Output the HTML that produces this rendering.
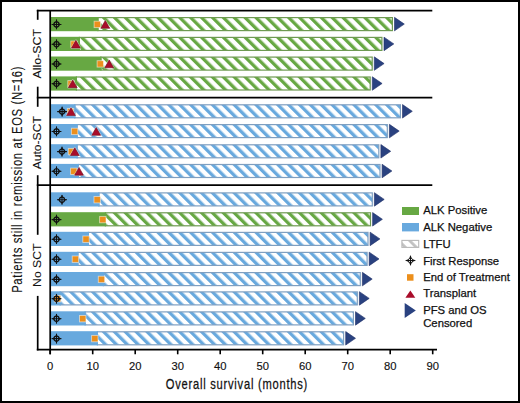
<!DOCTYPE html>
<html><head><meta charset="utf-8"><style>
html,body{margin:0;padding:0;background:#fff;}
body{width:520px;height:403px;overflow:hidden;}
svg{display:block;font-family:"Liberation Sans",sans-serif;fill:#1a1a1a;}
text{fill:#111;stroke:#111;stroke-width:0.25px;}
</style></head><body>
<svg width="520" height="403" viewBox="0 0 520 403">
<rect x="0" y="0" width="520" height="403" fill="#fff"/>
<defs>
<pattern id="hg" patternUnits="userSpaceOnUse" width="7.7" height="7.7" patternTransform="rotate(-45)"><rect width="7.7" height="7.7" fill="#fff"/><rect width="3.31" height="7.7" fill="#67a843"/></pattern>
<pattern id="hb" patternUnits="userSpaceOnUse" width="7.7" height="7.7" patternTransform="rotate(-45)"><rect width="7.7" height="7.7" fill="#fff"/><rect width="3.31" height="7.7" fill="#68a9de"/></pattern>
<pattern id="hl" patternUnits="userSpaceOnUse" width="7.7" height="7.7" patternTransform="rotate(-45)"><rect width="7.7" height="7.7" fill="#fff"/><rect width="2.77" height="7.7" fill="#c2c2c2"/></pattern>
</defs>
<g transform="translate(2.76,17.00)"><rect x="95.14" y="0.6" width="294.50" height="13.00" fill="url(#hg)" stroke="#6e9a52" stroke-width="1.2"/></g>
<rect x="51.0" y="17.00" width="47.50" height="14.2" fill="#67a843"/>
<path d="M394.50,17.35 L404.30,24.10 L394.50,30.85Z" fill="#2a4280" stroke="#1e2f66" stroke-width="0.6" stroke-linejoin="round"/>
<rect x="94.10" y="21.20" width="6.4" height="6.4" fill="#ec8f1c" stroke="#fff" stroke-opacity="0.55" stroke-width="0.9"/>
<path d="M100.85,28.30 L105.30,20.50 L109.75,28.30Z" fill="none" stroke="#fff" stroke-opacity="0.6" stroke-width="1.6" stroke-linejoin="round"/><path d="M100.85,28.30 L105.30,20.50 L109.75,28.30Z" fill="#a90c2a" stroke="#6e0819" stroke-width="0.6" stroke-linejoin="round"/>
<g transform="translate(56.50,24.40) scale(1.0)"><path d="M-1.0,-2.3L0,-5.2L1.0,-2.3Z M-1.0,2.3L0,5.2L1.0,2.3Z M-2.3,-1.0L-5.2,0L-2.3,1.0Z M2.3,-1.0L5.2,0L2.3,1.0Z" fill="#111"/><circle r="2.55" fill="none" stroke="#111" stroke-width="1.2"/><path d="M0,-4.8V4.8M-4.8,0H4.8" stroke="#111" stroke-width="1.05"/></g>
<g transform="translate(2.76,36.80)"><rect x="76.64" y="0.6" width="302.50" height="13.00" fill="url(#hg)" stroke="#6e9a52" stroke-width="1.2"/></g>
<rect x="51.0" y="36.80" width="29.00" height="14.2" fill="#67a843"/>
<path d="M384.00,37.15 L393.80,43.90 L384.00,50.65Z" fill="#2a4280" stroke="#1e2f66" stroke-width="0.6" stroke-linejoin="round"/>
<rect x="70.80" y="41.00" width="6.4" height="6.4" fill="#ec8f1c" stroke="#fff" stroke-opacity="0.55" stroke-width="0.9"/>
<path d="M71.45,48.10 L75.90,40.30 L80.35,48.10Z" fill="none" stroke="#fff" stroke-opacity="0.6" stroke-width="1.6" stroke-linejoin="round"/><path d="M71.45,48.10 L75.90,40.30 L80.35,48.10Z" fill="#a90c2a" stroke="#6e0819" stroke-width="0.6" stroke-linejoin="round"/>
<g transform="translate(56.50,44.20) scale(1.0)"><path d="M-1.0,-2.3L0,-5.2L1.0,-2.3Z M-1.0,2.3L0,5.2L1.0,2.3Z M-2.3,-1.0L-5.2,0L-2.3,1.0Z M2.3,-1.0L5.2,0L2.3,1.0Z" fill="#111"/><circle r="2.55" fill="none" stroke="#111" stroke-width="1.2"/><path d="M0,-4.8V4.8M-4.8,0H4.8" stroke="#111" stroke-width="1.05"/></g>
<g transform="translate(2.76,56.50)"><rect x="98.14" y="0.6" width="271.30" height="13.00" fill="url(#hg)" stroke="#6e9a52" stroke-width="1.2"/></g>
<rect x="51.0" y="56.50" width="50.50" height="14.2" fill="#67a843"/>
<path d="M374.30,56.85 L384.10,63.60 L374.30,70.35Z" fill="#2a4280" stroke="#1e2f66" stroke-width="0.6" stroke-linejoin="round"/>
<rect x="97.10" y="60.70" width="6.4" height="6.4" fill="#ec8f1c" stroke="#fff" stroke-opacity="0.55" stroke-width="0.9"/>
<path d="M104.75,67.80 L109.20,60.00 L113.65,67.80Z" fill="none" stroke="#fff" stroke-opacity="0.6" stroke-width="1.6" stroke-linejoin="round"/><path d="M104.75,67.80 L109.20,60.00 L113.65,67.80Z" fill="#a90c2a" stroke="#6e0819" stroke-width="0.6" stroke-linejoin="round"/>
<g transform="translate(56.50,63.90) scale(1.0)"><path d="M-1.0,-2.3L0,-5.2L1.0,-2.3Z M-1.0,2.3L0,5.2L1.0,2.3Z M-2.3,-1.0L-5.2,0L-2.3,1.0Z M2.3,-1.0L5.2,0L2.3,1.0Z" fill="#111"/><circle r="2.55" fill="none" stroke="#111" stroke-width="1.2"/><path d="M0,-4.8V4.8M-4.8,0H4.8" stroke="#111" stroke-width="1.05"/></g>
<g transform="translate(2.76,76.40)"><rect x="73.64" y="0.6" width="293.80" height="13.00" fill="url(#hg)" stroke="#6e9a52" stroke-width="1.2"/></g>
<rect x="51.0" y="76.40" width="26.00" height="14.2" fill="#67a843"/>
<path d="M372.30,76.75 L382.10,83.50 L372.30,90.25Z" fill="#2a4280" stroke="#1e2f66" stroke-width="0.6" stroke-linejoin="round"/>
<rect x="67.80" y="80.60" width="6.4" height="6.4" fill="#ec8f1c" stroke="#fff" stroke-opacity="0.55" stroke-width="0.9"/>
<path d="M68.25,87.70 L72.70,79.90 L77.15,87.70Z" fill="none" stroke="#fff" stroke-opacity="0.6" stroke-width="1.6" stroke-linejoin="round"/><path d="M68.25,87.70 L72.70,79.90 L77.15,87.70Z" fill="#a90c2a" stroke="#6e0819" stroke-width="0.6" stroke-linejoin="round"/>
<g transform="translate(56.50,83.80) scale(1.0)"><path d="M-1.0,-2.3L0,-5.2L1.0,-2.3Z M-1.0,2.3L0,5.2L1.0,2.3Z M-2.3,-1.0L-5.2,0L-2.3,1.0Z M2.3,-1.0L5.2,0L2.3,1.0Z" fill="#111"/><circle r="2.55" fill="none" stroke="#111" stroke-width="1.2"/><path d="M0,-4.8V4.8M-4.8,0H4.8" stroke="#111" stroke-width="1.05"/></g>
<g transform="translate(2.76,104.20)"><rect x="72.04" y="0.6" width="325.60" height="13.00" fill="url(#hb)" stroke="#7f9fc0" stroke-width="1.2"/></g>
<rect x="51.0" y="104.20" width="24.40" height="14.2" fill="#68a9de"/>
<path d="M402.50,104.55 L412.30,111.30 L402.50,118.05Z" fill="#2a4280" stroke="#1e2f66" stroke-width="0.6" stroke-linejoin="round"/>
<rect x="67.30" y="108.40" width="6.4" height="6.4" fill="#ec8f1c" stroke="#fff" stroke-opacity="0.55" stroke-width="0.9"/>
<path d="M66.55,115.50 L71.00,107.70 L75.45,115.50Z" fill="none" stroke="#fff" stroke-opacity="0.6" stroke-width="1.6" stroke-linejoin="round"/><path d="M66.55,115.50 L71.00,107.70 L75.45,115.50Z" fill="#a90c2a" stroke="#6e0819" stroke-width="0.6" stroke-linejoin="round"/>
<g transform="translate(62.10,111.60) scale(1.0)"><path d="M-1.0,-2.3L0,-5.2L1.0,-2.3Z M-1.0,2.3L0,5.2L1.0,2.3Z M-2.3,-1.0L-5.2,0L-2.3,1.0Z M2.3,-1.0L5.2,0L2.3,1.0Z" fill="#111"/><circle r="2.55" fill="none" stroke="#111" stroke-width="1.2"/><path d="M0,-4.8V4.8M-4.8,0H4.8" stroke="#111" stroke-width="1.05"/></g>
<g transform="translate(2.76,124.00)"><rect x="74.34" y="0.6" width="310.20" height="13.00" fill="url(#hb)" stroke="#7f9fc0" stroke-width="1.2"/></g>
<rect x="51.0" y="124.00" width="26.70" height="14.2" fill="#68a9de"/>
<path d="M389.40,124.35 L399.20,131.10 L389.40,137.85Z" fill="#2a4280" stroke="#1e2f66" stroke-width="0.6" stroke-linejoin="round"/>
<rect x="71.40" y="128.20" width="6.4" height="6.4" fill="#ec8f1c" stroke="#fff" stroke-opacity="0.55" stroke-width="0.9"/>
<path d="M91.75,135.30 L96.20,127.50 L100.65,135.30Z" fill="none" stroke="#fff" stroke-opacity="0.6" stroke-width="1.6" stroke-linejoin="round"/><path d="M91.75,135.30 L96.20,127.50 L100.65,135.30Z" fill="#a90c2a" stroke="#6e0819" stroke-width="0.6" stroke-linejoin="round"/>
<g transform="translate(56.50,131.40) scale(1.0)"><path d="M-1.0,-2.3L0,-5.2L1.0,-2.3Z M-1.0,2.3L0,5.2L1.0,2.3Z M-2.3,-1.0L-5.2,0L-2.3,1.0Z M2.3,-1.0L5.2,0L2.3,1.0Z" fill="#111"/><circle r="2.55" fill="none" stroke="#111" stroke-width="1.2"/><path d="M0,-4.8V4.8M-4.8,0H4.8" stroke="#111" stroke-width="1.05"/></g>
<g transform="translate(2.76,144.20)"><rect x="74.34" y="0.6" width="301.70" height="13.00" fill="url(#hb)" stroke="#7f9fc0" stroke-width="1.2"/></g>
<rect x="51.0" y="144.20" width="26.70" height="14.2" fill="#68a9de"/>
<path d="M380.90,144.55 L390.70,151.30 L380.90,158.05Z" fill="#2a4280" stroke="#1e2f66" stroke-width="0.6" stroke-linejoin="round"/>
<rect x="68.30" y="148.40" width="6.4" height="6.4" fill="#ec8f1c" stroke="#fff" stroke-opacity="0.55" stroke-width="0.9"/>
<path d="M70.35,155.50 L74.80,147.70 L79.25,155.50Z" fill="none" stroke="#fff" stroke-opacity="0.6" stroke-width="1.6" stroke-linejoin="round"/><path d="M70.35,155.50 L74.80,147.70 L79.25,155.50Z" fill="#a90c2a" stroke="#6e0819" stroke-width="0.6" stroke-linejoin="round"/>
<g transform="translate(62.00,151.60) scale(1.0)"><path d="M-1.0,-2.3L0,-5.2L1.0,-2.3Z M-1.0,2.3L0,5.2L1.0,2.3Z M-2.3,-1.0L-5.2,0L-2.3,1.0Z M2.3,-1.0L5.2,0L2.3,1.0Z" fill="#111"/><circle r="2.55" fill="none" stroke="#111" stroke-width="1.2"/><path d="M0,-4.8V4.8M-4.8,0H4.8" stroke="#111" stroke-width="1.05"/></g>
<g transform="translate(2.76,163.90)"><rect x="75.64" y="0.6" width="301.60" height="13.00" fill="url(#hb)" stroke="#7f9fc0" stroke-width="1.2"/></g>
<rect x="51.0" y="163.90" width="28.00" height="14.2" fill="#68a9de"/>
<path d="M382.10,164.25 L391.90,171.00 L382.10,177.75Z" fill="#2a4280" stroke="#1e2f66" stroke-width="0.6" stroke-linejoin="round"/>
<rect x="70.60" y="168.10" width="6.4" height="6.4" fill="#ec8f1c" stroke="#fff" stroke-opacity="0.55" stroke-width="0.9"/>
<path d="M74.55,175.20 L79.00,167.40 L83.45,175.20Z" fill="none" stroke="#fff" stroke-opacity="0.6" stroke-width="1.6" stroke-linejoin="round"/><path d="M74.55,175.20 L79.00,167.40 L83.45,175.20Z" fill="#a90c2a" stroke="#6e0819" stroke-width="0.6" stroke-linejoin="round"/>
<g transform="translate(56.50,171.30) scale(1.0)"><path d="M-1.0,-2.3L0,-5.2L1.0,-2.3Z M-1.0,2.3L0,5.2L1.0,2.3Z M-2.3,-1.0L-5.2,0L-2.3,1.0Z M2.3,-1.0L5.2,0L2.3,1.0Z" fill="#111"/><circle r="2.55" fill="none" stroke="#111" stroke-width="1.2"/><path d="M0,-4.8V4.8M-4.8,0H4.8" stroke="#111" stroke-width="1.05"/></g>
<g transform="translate(2.76,192.30)"><rect x="96.14" y="0.6" width="273.40" height="13.00" fill="url(#hb)" stroke="#7f9fc0" stroke-width="1.2"/></g>
<rect x="51.0" y="192.30" width="48.50" height="14.2" fill="#68a9de"/>
<path d="M374.40,192.65 L384.20,199.40 L374.40,206.15Z" fill="#2a4280" stroke="#1e2f66" stroke-width="0.6" stroke-linejoin="round"/>
<rect x="94.00" y="196.50" width="6.4" height="6.4" fill="#ec8f1c" stroke="#fff" stroke-opacity="0.55" stroke-width="0.9"/>
<g transform="translate(62.00,199.70) scale(1.0)"><path d="M-1.0,-2.3L0,-5.2L1.0,-2.3Z M-1.0,2.3L0,5.2L1.0,2.3Z M-2.3,-1.0L-5.2,0L-2.3,1.0Z M2.3,-1.0L5.2,0L2.3,1.0Z" fill="#111"/><circle r="2.55" fill="none" stroke="#111" stroke-width="1.2"/><path d="M0,-4.8V4.8M-4.8,0H4.8" stroke="#111" stroke-width="1.05"/></g>
<g transform="translate(2.76,212.20)"><rect x="102.64" y="0.6" width="265.10" height="13.00" fill="url(#hg)" stroke="#6e9a52" stroke-width="1.2"/></g>
<rect x="51.0" y="212.20" width="55.00" height="14.2" fill="#67a843"/>
<path d="M372.60,212.55 L382.40,219.30 L372.60,226.05Z" fill="#2a4280" stroke="#1e2f66" stroke-width="0.6" stroke-linejoin="round"/>
<rect x="99.60" y="216.40" width="6.4" height="6.4" fill="#ec8f1c" stroke="#fff" stroke-opacity="0.55" stroke-width="0.9"/>
<g transform="translate(56.50,219.60) scale(1.0)"><path d="M-1.0,-2.3L0,-5.2L1.0,-2.3Z M-1.0,2.3L0,5.2L1.0,2.3Z M-2.3,-1.0L-5.2,0L-2.3,1.0Z M2.3,-1.0L5.2,0L2.3,1.0Z" fill="#111"/><circle r="2.55" fill="none" stroke="#111" stroke-width="1.2"/><path d="M0,-4.8V4.8M-4.8,0H4.8" stroke="#111" stroke-width="1.05"/></g>
<g transform="translate(2.76,231.80)"><rect x="85.64" y="0.6" width="279.60" height="13.00" fill="url(#hb)" stroke="#7f9fc0" stroke-width="1.2"/></g>
<rect x="51.0" y="231.80" width="38.00" height="14.2" fill="#68a9de"/>
<path d="M370.10,232.15 L379.90,238.90 L370.10,245.65Z" fill="#2a4280" stroke="#1e2f66" stroke-width="0.6" stroke-linejoin="round"/>
<rect x="82.80" y="236.00" width="6.4" height="6.4" fill="#ec8f1c" stroke="#fff" stroke-opacity="0.55" stroke-width="0.9"/>
<g transform="translate(56.50,239.20) scale(1.0)"><path d="M-1.0,-2.3L0,-5.2L1.0,-2.3Z M-1.0,2.3L0,5.2L1.0,2.3Z M-2.3,-1.0L-5.2,0L-2.3,1.0Z M2.3,-1.0L5.2,0L2.3,1.0Z" fill="#111"/><circle r="2.55" fill="none" stroke="#111" stroke-width="1.2"/><path d="M0,-4.8V4.8M-4.8,0H4.8" stroke="#111" stroke-width="1.05"/></g>
<g transform="translate(2.76,251.80)"><rect x="75.14" y="0.6" width="289.20" height="13.00" fill="url(#hb)" stroke="#7f9fc0" stroke-width="1.2"/></g>
<rect x="51.0" y="251.80" width="27.50" height="14.2" fill="#68a9de"/>
<path d="M369.20,252.15 L379.00,258.90 L369.20,265.65Z" fill="#2a4280" stroke="#1e2f66" stroke-width="0.6" stroke-linejoin="round"/>
<rect x="72.20" y="256.00" width="6.4" height="6.4" fill="#ec8f1c" stroke="#fff" stroke-opacity="0.55" stroke-width="0.9"/>
<g transform="translate(56.50,259.20) scale(1.0)"><path d="M-1.0,-2.3L0,-5.2L1.0,-2.3Z M-1.0,2.3L0,5.2L1.0,2.3Z M-2.3,-1.0L-5.2,0L-2.3,1.0Z M2.3,-1.0L5.2,0L2.3,1.0Z" fill="#111"/><circle r="2.55" fill="none" stroke="#111" stroke-width="1.2"/><path d="M0,-4.8V4.8M-4.8,0H4.8" stroke="#111" stroke-width="1.05"/></g>
<g transform="translate(2.76,272.00)"><rect x="100.64" y="0.6" width="256.90" height="13.00" fill="url(#hb)" stroke="#7f9fc0" stroke-width="1.2"/></g>
<rect x="51.0" y="272.00" width="53.00" height="14.2" fill="#68a9de"/>
<path d="M362.40,272.35 L372.20,279.10 L362.40,285.85Z" fill="#2a4280" stroke="#1e2f66" stroke-width="0.6" stroke-linejoin="round"/>
<rect x="98.30" y="276.20" width="6.4" height="6.4" fill="#ec8f1c" stroke="#fff" stroke-opacity="0.55" stroke-width="0.9"/>
<g transform="translate(56.50,279.40) scale(1.0)"><path d="M-1.0,-2.3L0,-5.2L1.0,-2.3Z M-1.0,2.3L0,5.2L1.0,2.3Z M-2.3,-1.0L-5.2,0L-2.3,1.0Z M2.3,-1.0L5.2,0L2.3,1.0Z" fill="#111"/><circle r="2.55" fill="none" stroke="#111" stroke-width="1.2"/><path d="M0,-4.8V4.8M-4.8,0H4.8" stroke="#111" stroke-width="1.05"/></g>
<g transform="translate(2.76,291.30)"><rect x="57.44" y="0.6" width="297.10" height="13.00" fill="url(#hb)" stroke="#7f9fc0" stroke-width="1.2"/></g>
<rect x="51.0" y="291.30" width="9.80" height="14.2" fill="#68a9de"/>
<path d="M359.40,291.65 L369.20,298.40 L359.40,305.15Z" fill="#2a4280" stroke="#1e2f66" stroke-width="0.6" stroke-linejoin="round"/>
<rect x="54.30" y="295.50" width="6.4" height="6.4" fill="#ec8f1c" stroke="#fff" stroke-opacity="0.55" stroke-width="0.9"/>
<g transform="translate(56.50,298.70) scale(1.0)"><path d="M-1.0,-2.3L0,-5.2L1.0,-2.3Z M-1.0,2.3L0,5.2L1.0,2.3Z M-2.3,-1.0L-5.2,0L-2.3,1.0Z M2.3,-1.0L5.2,0L2.3,1.0Z" fill="#111"/><circle r="2.55" fill="none" stroke="#111" stroke-width="1.2"/><path d="M0,-4.8V4.8M-4.8,0H4.8" stroke="#111" stroke-width="1.05"/></g>
<g transform="translate(2.76,311.30)"><rect x="82.34" y="0.6" width="268.30" height="13.00" fill="url(#hb)" stroke="#7f9fc0" stroke-width="1.2"/></g>
<rect x="51.0" y="311.30" width="34.70" height="14.2" fill="#68a9de"/>
<path d="M355.50,311.65 L365.30,318.40 L355.50,325.15Z" fill="#2a4280" stroke="#1e2f66" stroke-width="0.6" stroke-linejoin="round"/>
<rect x="79.50" y="315.50" width="6.4" height="6.4" fill="#ec8f1c" stroke="#fff" stroke-opacity="0.55" stroke-width="0.9"/>
<g transform="translate(56.50,318.70) scale(1.0)"><path d="M-1.0,-2.3L0,-5.2L1.0,-2.3Z M-1.0,2.3L0,5.2L1.0,2.3Z M-2.3,-1.0L-5.2,0L-2.3,1.0Z M2.3,-1.0L5.2,0L2.3,1.0Z" fill="#111"/><circle r="2.55" fill="none" stroke="#111" stroke-width="1.2"/><path d="M0,-4.8V4.8M-4.8,0H4.8" stroke="#111" stroke-width="1.05"/></g>
<g transform="translate(2.76,331.20)"><rect x="94.64" y="0.6" width="246.20" height="13.00" fill="url(#hb)" stroke="#7f9fc0" stroke-width="1.2"/></g>
<rect x="51.0" y="331.20" width="47.00" height="14.2" fill="#68a9de"/>
<path d="M345.70,331.55 L355.50,338.30 L345.70,345.05Z" fill="#2a4280" stroke="#1e2f66" stroke-width="0.6" stroke-linejoin="round"/>
<rect x="91.60" y="335.40" width="6.4" height="6.4" fill="#ec8f1c" stroke="#fff" stroke-opacity="0.55" stroke-width="0.9"/>
<g transform="translate(56.50,338.60) scale(1.0)"><path d="M-1.0,-2.3L0,-5.2L1.0,-2.3Z M-1.0,2.3L0,5.2L1.0,2.3Z M-2.3,-1.0L-5.2,0L-2.3,1.0Z M2.3,-1.0L5.2,0L2.3,1.0Z" fill="#111"/><circle r="2.55" fill="none" stroke="#111" stroke-width="1.2"/><path d="M0,-4.8V4.8M-4.8,0H4.8" stroke="#111" stroke-width="1.05"/></g>
<path d="M36.8,10.7H432.3" stroke="#000" stroke-width="1.8" fill="none"/>
<path d="M36.8,97.7H432.3" stroke="#000" stroke-width="1.8" fill="none"/>
<path d="M36.8,185.2H432.3" stroke="#000" stroke-width="1.8" fill="none"/>
<path d="M36.8,349.6H437" stroke="#000" stroke-width="1.8" fill="none"/>
<path d="M50.2,10H50.2V354.3" stroke="#000" stroke-width="1.7"/>
<path d="M37.7,9.8V19.8" stroke="#000" stroke-width="1.7"/>
<path d="M37.7,86.7V106.8" stroke="#000" stroke-width="1.7"/>
<path d="M37.7,175.2V234.8" stroke="#000" stroke-width="1.7"/>
<path d="M37.7,295.9V350.4" stroke="#000" stroke-width="1.7"/>
<path d="M50.20,349.6V354.3" stroke="#000" stroke-width="1.6"/>
<text transform="translate(50.20,369.5) scale(0.97,1)" font-size="11.6" text-anchor="middle" style="stroke-width:0.15px">0</text>
<path d="M92.70,349.6V354.3" stroke="#000" stroke-width="1.6"/>
<text transform="translate(92.70,369.5) scale(0.97,1)" font-size="11.6" text-anchor="middle" style="stroke-width:0.15px">10</text>
<path d="M135.20,349.6V354.3" stroke="#000" stroke-width="1.6"/>
<text transform="translate(135.20,369.5) scale(0.97,1)" font-size="11.6" text-anchor="middle" style="stroke-width:0.15px">20</text>
<path d="M177.70,349.6V354.3" stroke="#000" stroke-width="1.6"/>
<text transform="translate(177.70,369.5) scale(0.97,1)" font-size="11.6" text-anchor="middle" style="stroke-width:0.15px">30</text>
<path d="M220.20,349.6V354.3" stroke="#000" stroke-width="1.6"/>
<text transform="translate(220.20,369.5) scale(0.97,1)" font-size="11.6" text-anchor="middle" style="stroke-width:0.15px">40</text>
<path d="M262.70,349.6V354.3" stroke="#000" stroke-width="1.6"/>
<text transform="translate(262.70,369.5) scale(0.97,1)" font-size="11.6" text-anchor="middle" style="stroke-width:0.15px">50</text>
<path d="M305.20,349.6V354.3" stroke="#000" stroke-width="1.6"/>
<text transform="translate(305.20,369.5) scale(0.97,1)" font-size="11.6" text-anchor="middle" style="stroke-width:0.15px">60</text>
<path d="M347.70,349.6V354.3" stroke="#000" stroke-width="1.6"/>
<text transform="translate(347.70,369.5) scale(0.97,1)" font-size="11.6" text-anchor="middle" style="stroke-width:0.15px">70</text>
<path d="M390.20,349.6V354.3" stroke="#000" stroke-width="1.6"/>
<text transform="translate(390.20,369.5) scale(0.97,1)" font-size="11.6" text-anchor="middle" style="stroke-width:0.15px">80</text>
<path d="M432.70,349.6V354.3" stroke="#000" stroke-width="1.6"/>
<text transform="translate(432.70,369.5) scale(0.97,1)" font-size="11.6" text-anchor="middle" style="stroke-width:0.15px">90</text>
<text transform="translate(165.8,389.0) scale(0.78,1)" font-size="14.3" textLength="181.41" lengthAdjust="spacing">Overall survival (months)</text>
<text transform="translate(22.2,292.8) rotate(-90) scale(0.78,1)" x="0" y="0" font-size="14.5" textLength="290.13" lengthAdjust="spacing" style="stroke-width:0.1px">Patients still in remission at EOS (N=16)</text>
<text transform="translate(41.4,78.6) rotate(-90) scale(1.0,1)" x="0" y="0" font-size="11.8" textLength="49.60" lengthAdjust="spacingAndGlyphs" style="stroke-width:0.1px">Allo-SCT</text>
<text transform="translate(41.4,169.3) rotate(-90) scale(1.0,1)" x="0" y="0" font-size="11.8" textLength="53.10" lengthAdjust="spacingAndGlyphs" style="stroke-width:0.1px">Auto-SCT</text>
<text transform="translate(41.4,286.9) rotate(-90) scale(1.0,1)" x="0" y="0" font-size="11.8" textLength="43.30" lengthAdjust="spacingAndGlyphs" style="stroke-width:0.1px">No SCT</text>
<rect x="402" y="207" width="17" height="8" fill="#67a843"/>
<rect x="402" y="223" width="17" height="8.4" fill="#68a9de"/>
<g transform="translate(4.5,240.4)"><rect x="397.40" y="0" width="16.8" height="7" fill="url(#hl)" stroke="#b9b9b9" stroke-width="1.1"/></g>
<g transform="translate(410.5,260.5)"><path d="M0,-5.5L1.55,-1.55L5.5,0L1.55,1.55L0,5.5L-1.55,1.55L-5.5,0L-1.55,-1.55Z" fill="#111"/><circle r="2.6" fill="#111"/><g fill="#fff"><circle cx="-1.1" cy="-1.1" r="0.6"/><circle cx="1.1" cy="-1.1" r="0.6"/><circle cx="-1.1" cy="1.1" r="0.6"/><circle cx="1.1" cy="1.1" r="0.6"/></g></g>
<rect x="407" y="274.2" width="6.5" height="6.5" fill="#ec8f1c"/>
<path d="M405.4,297.8L410.35,290.4L415.3,297.8Z" fill="#a90c2a"/>
<path d="M404.7,303.1L415.8,310.6L404.7,318.1Z" fill="#2a4280"/>
<text x="423.2" y="214.3" font-size="11.3">ALK Positive</text>
<text x="423.2" y="230.8" font-size="11.3">ALK Negative</text>
<text x="423.2" y="247.6" font-size="11.3">LTFU</text>
<text x="423.2" y="264.5" font-size="11.3">First Response</text>
<text x="423.2" y="281.0" font-size="11.3">End of Treatment</text>
<text x="423.2" y="297.4" font-size="11.3">Transplant</text>
<text x="423.2" y="314.3" font-size="11.3">PFS and OS</text>
<text x="423.2" y="327.4" font-size="11.3">Censored</text>
<rect x="1" y="1" width="518" height="401" fill="none" stroke="#000" stroke-width="2"/>
</svg>
</body></html>
